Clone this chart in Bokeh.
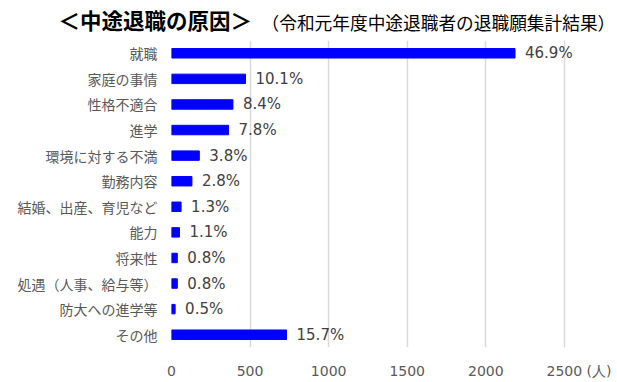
from bokeh.plotting import figure
from bokeh.layouts import column
from bokeh.models import ColumnDataSource, FactorRange, Range1d, FixedTicker
from bokeh.core.properties import value
from bokeh.embed import file_html
from bokeh.resources import INLINE

categories = ["就職", "家庭の事情", "性格不適合", "進学", "環境に対する不満", "勤務内容",
              "結婚、出産、育児など", "能力", "将来性", "処遇（人事、給与等）", "防大への進学等", "その他"]
counts = [2186, 471, 391, 363, 177, 130, 61, 51, 37, 37, 23, 732]
pct_labels = ["46.9%", "10.1%", "8.4%", "7.8%", "3.8%", "2.8%", "1.3%", "1.1%", "0.8%", "0.8%", "0.5%", "15.7%"]
x_ticks = [0, 500, 1000, 1500, 2000, 2500]
unit_tick = 2721
unit_text = "(人)"

title_text = "＜中途退職の原因＞"
subtitle_text = "（令和元年度中途退職者の退職願集計結果）"

JP = "Noto Sans CJK JP"
NUM = "DejaVu Sans"

W = 617
H = 382
TH = 40

# ---- title strip ----
t = figure(width=W, height=TH, output_backend="svg", toolbar_location=None,
           x_range=Range1d(0, W), y_range=Range1d(0, TH),
           x_axis_type=None, y_axis_type=None, min_border=0)
t.frame_align = False
t.outline_line_color = None
t.grid.grid_line_color = None
t.text(x=[58], y=[TH - 19], text=[title_text], text_font=value(JP), text_font_size="21.5px",
       text_font_style="bold", text_color="#000000", text_baseline="middle", text_align="left")
t.text(x=[261], y=[TH - 21], text=[subtitle_text], text_font=value(JP), text_font_size="17.7px",
       text_color="#000000", text_baseline="middle", text_align="left")

# ---- main chart ----
src = ColumnDataSource(dict(cat=categories, val=counts, lab=pct_labels))

p = figure(width=W, height=H - TH, output_backend="svg", toolbar_location=None,
           y_range=FactorRange(*list(reversed(categories)), range_padding=0),
           x_range=Range1d(0, 2800),
           min_border_left=171, min_border_right=6, min_border_top=0, min_border_bottom=35)
p.frame_align = False
p.outline_line_color = None

p.hbar(y="cat", right="val", height=0.37, source=src, fill_color="#0000FF", line_color="#0000FF")
p.text(x="val", y="cat", text="lab", source=src, x_offset=10, text_baseline="middle",
       text_align="left", text_font=value(NUM), text_font_size="15px", text_color="#404040")

p.xgrid.ticker = FixedTicker(ticks=x_ticks)
p.xgrid.grid_line_color = "#d9d9d9"
p.xgrid.grid_line_width = 1.5
p.ygrid.grid_line_color = None

p.xaxis.ticker = FixedTicker(ticks=x_ticks + [unit_tick])
p.xaxis.major_label_overrides = {unit_tick: unit_text}
p.xaxis.axis_line_color = None
p.xaxis.major_tick_line_color = None
p.xaxis.minor_tick_line_color = None
p.xaxis.major_tick_in = 0
p.xaxis.major_tick_out = 0
p.xaxis.major_label_standoff = 15
p.xaxis.major_label_text_font = NUM
p.xaxis.major_label_text_font_size = "14px"
p.xaxis.major_label_text_color = "#595959"

p.yaxis.axis_line_color = None
p.yaxis.major_tick_line_color = None
p.yaxis.major_tick_in = 0
p.yaxis.major_tick_out = 0
p.yaxis.major_label_standoff = 14
p.yaxis.major_label_text_font = JP
p.yaxis.major_label_text_font_size = "14px"
p.yaxis.major_label_text_color = "#595959"

layout = column(t, p, spacing=0)
open("out.html", "w").write(file_html(layout, INLINE))
